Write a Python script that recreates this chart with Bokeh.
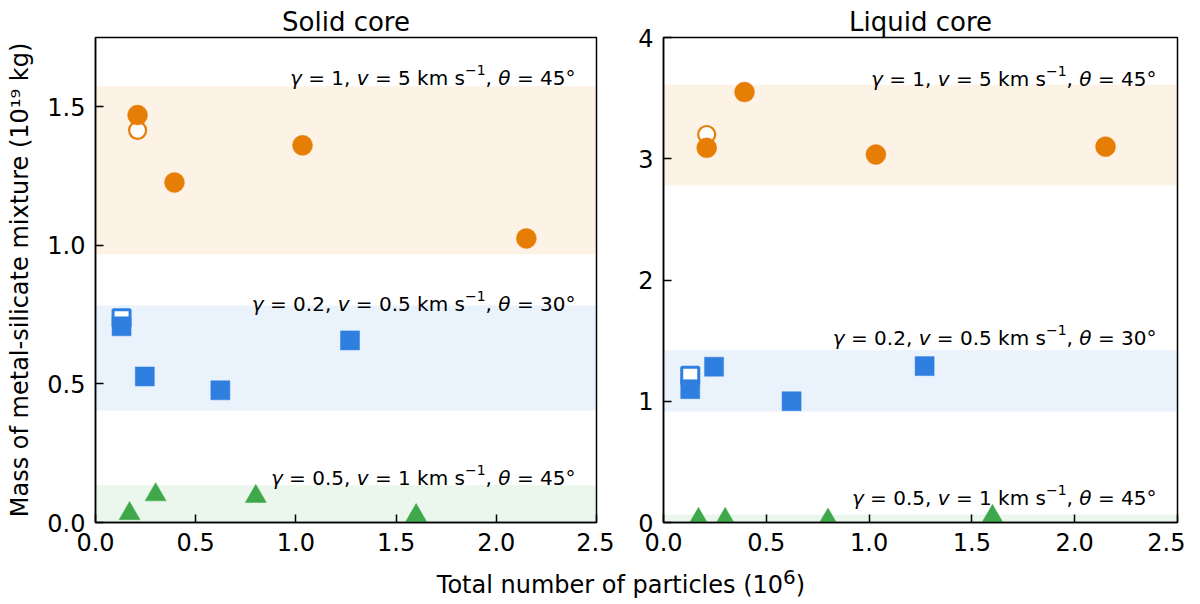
from bokeh.plotting import figure
from bokeh.models import Range1d, FixedTicker, BoxAnnotation, ColumnDataSource, Div
from bokeh.layouts import row, column
from bokeh.embed import file_html
from bokeh.resources import INLINE
from bokeh.core.properties import value

FONT = "DejaVu Sans"

# ---------------- data ----------------
x_ticks = [0.0, 0.5, 1.0, 1.5, 2.0, 2.5]
x_tick_labels = ["0.0", "0.5", "1.0", "1.5", "2.0", "2.5"]
solid_y_ticks = [0.0, 0.5, 1.0, 1.5]
solid_y_tick_labels = ["0.0", "0.5", "1.0", "1.5"]
liquid_y_ticks = [0, 1, 2, 3, 4]
liquid_y_tick_labels = ["0", "1", "2", "3", "4"]

# total number of particles (10^6)
orange_n = [0.21, 0.394, 1.033, 2.15]
orange_open_n = [0.21]
blue_n = [0.13, 0.246, 0.623, 1.27]
blue_open_n = [0.13]
green_n = [0.17, 0.30, 0.80, 1.60]

# mass of metal-silicate mixture (10^19 kg)
solid_orange = [1.47, 1.227, 1.361, 1.025]
solid_orange_open = [1.415]
solid_blue = [0.708, 0.527, 0.477, 0.657]
solid_blue_open = [0.737]
solid_green = [0.032, 0.100, 0.094, 0.025]

liquid_orange = [3.09, 3.55, 3.035, 3.10]
liquid_orange_open = [3.20]
liquid_blue = [1.10, 1.285, 1.00, 1.29]
liquid_blue_open = [1.21]
liquid_green = [0.025, 0.025, 0.02, 0.05]

# shaded ranges (orange, blue, green)
solid_band_low = [0.968, 0.404, 0.0]
solid_band_high = [1.574, 0.783, 0.134]
liquid_band_low = [2.78, 0.915, 0.0]
liquid_band_high = [3.61, 1.42, 0.066]

# annotation parameters (orange, blue, green)
gamma_vals = ["1", "0.2", "0.5"]
v_vals = ["5", "0.5", "1"]
theta_vals = ["45", "30", "45"]

ORANGE = "#e67e06"
BLUE = "#2f7fe0"
GREEN = "#3fa84a"
band_colors = [ORANGE, BLUE, GREEN]

# annotation baselines (data y) for each panel
solid_text_y = [1.603, 0.79, 0.162]
liquid_text_y = [3.66, 1.52, 0.206]

# DejaVu Sans advance widths (em)
W = {' ': 0.318, '=': 0.838, ',': 0.318, '.': 0.318, 'k': 0.579, 'm': 0.974,
     's': 0.521, 'v': 0.592, '°': 0.5, '−': 0.838, 'γ': 0.592, 'θ': 0.613}
for d in "0123456789":
    W[d] = 0.636

ANN_SIZE = 20
SUP_SCALE = 0.7
SUP_RAISE_PX = 8
RIGHT_PAD = 21


def style_fig(p, yticks, ylabels):
    p.x_range = Range1d(0, 2.5)
    p.grid.visible = False
    p.outline_line_color = "black"
    p.outline_line_width = 1.5
    p.outline_line_alpha = 1
    p.background_fill_color = "white"
    p.border_fill_color = "white"
    p.xaxis.ticker = FixedTicker(ticks=x_ticks)
    p.xaxis.major_label_overrides = {t: l for t, l in zip(x_ticks, x_tick_labels)}
    p.yaxis.ticker = FixedTicker(ticks=yticks)
    p.yaxis.major_label_overrides = {t: l for t, l in zip(yticks, ylabels)}
    for ax in (p.xaxis[0], p.yaxis[0]):
        ax.axis_line_color = "black"
        ax.axis_line_width = 1.5
        ax.major_tick_in = 8
        ax.major_tick_out = 0
        ax.major_tick_line_width = 1.5
        ax.major_tick_line_color = "black"
        ax.minor_tick_line_color = None
        ax.major_label_text_font = FONT
        ax.major_label_text_font_size = "24px"
        ax.major_label_text_color = "black"
        ax.major_label_standoff = 10
    p.title.text_font = FONT
    p.title.text_font_size = "26px"
    p.title.text_font_style = "normal"
    p.title.align = "center"
    p.title.text_color = "black"
    p.title.standoff = 2


def add_bands(p, lows, highs):
    for lo, hi, c in zip(lows, highs, band_colors):
        p.add_layout(BoxAnnotation(bottom=lo, top=hi, fill_color=c, fill_alpha=0.1,
                                   line_color=None, level="underlay"))


def add_points(p, ys_orange, ys_orange_open, ys_blue, ys_blue_open, ys_green):
    p.scatter(orange_open_n, ys_orange_open, marker="circle", size=17,
              fill_color="white", line_color=ORANGE, line_width=2.2)
    p.scatter(blue_open_n, ys_blue_open, marker="square", size=17,
              fill_color="white", line_color=BLUE, line_width=3)
    p.scatter(orange_n, ys_orange, marker="circle", size=20,
              fill_color=ORANGE, line_color=ORANGE, line_width=0.5)
    p.scatter(blue_n, ys_blue, marker="square", size=19,
              fill_color=BLUE, line_color=BLUE, line_width=0.5)
    p.scatter(green_n, ys_green, marker="triangle", size=21,
              fill_color=GREEN, line_color=GREEN, line_width=0.5)


def add_annotations(p, text_y, y_span, frame_h):
    px_per_unit = frame_h / y_span
    groups = {"normal": dict(x=[], y=[], text=[], xo=[]),
              "italic": dict(x=[], y=[], text=[], xo=[]),
              "sup": dict(x=[], y=[], text=[], xo=[])}
    for g, v, t, y in zip(gamma_vals, v_vals, theta_vals, text_y):
        segs = [("γ", "italic"), (" = " + g + ", ", "normal"), ("v", "italic"),
                (" = " + v + " km s", "normal"), ("−1", "sup"), (", ", "normal"),
                ("θ", "italic"), (" = " + t + "°", "normal")]
        cursor = 0.0
        placed = []
        for s, kind in segs:
            size = ANN_SIZE * (SUP_SCALE if kind == "sup" else 1.0)
            stripped = s.strip(" ")
            lead = len(s) - len(s.lstrip(" "))
            trail = len(s) - len(s.rstrip(" "))
            cursor += lead * W[" "] * size
            placed.append((stripped, kind, cursor))
            cursor += sum(W[c] for c in stripped) * size
            cursor += trail * W[" "] * size
        total = cursor
        for stripped, kind, pos in placed:
            gdict = groups[kind]
            gdict["x"].append(2.5)
            yy = y + (SUP_RAISE_PX / px_per_unit if kind == "sup" else 0.0)
            gdict["y"].append(yy)
            gdict["text"].append(stripped)
            gdict["xo"].append(pos - total - RIGHT_PAD)
    for kind, gdict in groups.items():
        src = ColumnDataSource(gdict)
        p.text(x="x", y="y", text="text", x_offset="xo", source=src,
               text_font=value(FONT),
               text_font_size="%dpx" % (round(ANN_SIZE * SUP_SCALE) if kind == "sup" else ANN_SIZE),
               text_font_style="italic" if kind == "italic" else "normal",
               text_align="left", text_baseline="alphabetic", text_color="black")


FH = 485

p1 = figure(frame_width=501, frame_height=FH, output_backend="svg", toolbar_location=None,
            title="Solid core", min_border_left=95, min_border_right=18,
            min_border_top=37, min_border_bottom=40, y_range=Range1d(0, 1.75))
style_fig(p1, solid_y_ticks, solid_y_tick_labels)
p1.yaxis.axis_label = "Mass of metal-silicate mixture (10¹⁹ kg)"
p1.yaxis.axis_label_text_font = FONT
p1.yaxis.axis_label_text_font_size = "24px"
p1.yaxis.axis_label_text_font_style = "normal"
p1.yaxis.axis_label_text_color = "black"
p1.yaxis.axis_label_standoff = 10
add_bands(p1, solid_band_low, solid_band_high)
add_points(p1, solid_orange, solid_orange_open, solid_blue, solid_blue_open, solid_green)
add_annotations(p1, solid_text_y, 1.75, FH)

p2 = figure(frame_width=514, frame_height=FH, output_backend="svg", toolbar_location=None,
            title="Liquid core", min_border_left=49, min_border_right=8,
            min_border_top=37, min_border_bottom=40, y_range=Range1d(0, 4))
style_fig(p2, liquid_y_ticks, liquid_y_tick_labels)
add_bands(p2, liquid_band_low, liquid_band_high)
add_points(p2, liquid_orange, liquid_orange_open, liquid_blue, liquid_blue_open, liquid_green)
add_annotations(p2, liquid_text_y, 4.0, FH)

xlabel = Div(text="Total number of particles (10<sup>6</sup>)", width=440, height=34,
             margin=(1, 0, 0, 401),
             styles={"text-align": "center", "font-family": FONT, "font-size": "24px",
                     "color": "black", "white-space": "nowrap"})

layout = column(row(p1, p2, spacing=0), xlabel, spacing=0)

open("out.html", "w").write(file_html(layout, INLINE))
